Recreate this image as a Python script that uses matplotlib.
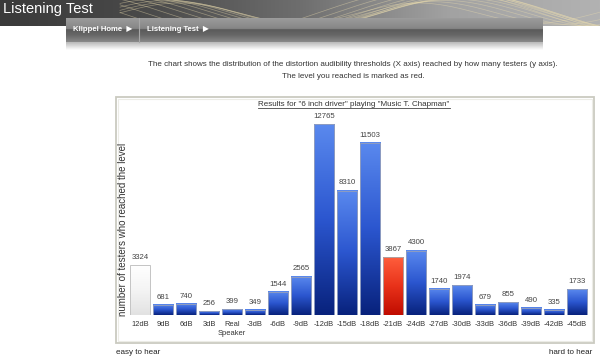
"""Listening test result page: distribution of distortion audibility thresholds."""

import matplotlib

matplotlib.use("Agg")
import matplotlib.pyplot as plt
import numpy as np
from matplotlib.colors import LinearSegmentedColormap
from matplotlib.patches import Rectangle

plt.rcParams["font.family"] = ["Liberation Sans", "DejaVu Sans"]

# data
levels = ["12dB", "9dB", "6dB", "3dB", "Real\nSpeaker", "-3dB", "-6dB", "-9dB", "-12dB",
          "-15dB", "-18dB", "-21dB", "-24dB", "-27dB", "-30dB", "-33dB", "-36dB",
          "-39dB", "-42dB", "-45dB"]
testers = [3324, 681, 740, 256, 399, 349, 1544, 2565, 12765, 8310, 11503, 3867, 4300,
           1740, 1974, 679, 855, 490, 335, 1733]
your_level = "-21dB"
not_reached_level = "12dB"

title = 'Results for "6 inch driver" playing "Music T. Chapman"'
intro = [
    "The chart shows the distribution of the distortion audibility thresholds (X axis) "
    "reached by how many testers (y axis).",
    "The level you reached is marked as red.",
]

CMAPS = {
    "blue": LinearSegmentedColormap.from_list("blue", ["#5a89ee", "#2b56cf", "#08227c"]),
    "red": LinearSegmentedColormap.from_list("red", ["#ff5e3c", "#e8321a", "#c00c00"]),
    "white": LinearSegmentedColormap.from_list("white", ["#ffffff", "#f4f4f4", "#e2e2e2"]),
}
EDGES = {"blue": "#8e9cc0", "red": "#b0a0a0", "white": "#c4c4c4"}

W, H = 600, 360
fig = plt.figure(figsize=(W / 100, H / 100), dpi=100)
fig.patch.set_facecolor("white")

# page background in pixel coordinates (y down)
bg = fig.add_axes([0, 0, 1, 1], zorder=0)
bg.set_xlim(0, W)
bg.set_ylim(H, 0)
bg.axis("off")

# header band
header_cmap = LinearSegmentedColormap.from_list(
    "header", ["#3a3a3a", "#4a4a4a", "#6e6e6e", "#a2a2a2", "#b2b2b2"])
bg.imshow(np.linspace(0, 1, 256).reshape(1, -1), cmap=header_cmap, aspect="auto",
          extent=(0, W, 26, 0), zorder=1)
clip = Rectangle((0, 0), W, 26, transform=bg.transData)
xs = np.linspace(120, W, 300)
for k in range(12):
    phase = k * 0.45
    amp = 10 + k * 1.3
    ys = 13 + amp * np.sin(xs / (38 + 3 * k) + phase)
    line, = bg.plot(xs, ys, color="#eadcae", lw=0.5, alpha=0.45, zorder=2)
    line.set_clip_path(clip)
bg.text(3, 9, "Listening Test", color="white", fontsize=10.5, va="center", ha="left",
        zorder=5)

# navigation bar with shadow
nav_cmap = LinearSegmentedColormap.from_list(
    "nav", [(0, "#9c9c9c"), (0.45, "#858585"), (0.47, "#5a5a5a"),
            (0.7, "#666666"), (1, "#8a8a8a")])
bg.imshow(np.linspace(0, 1, 128).reshape(-1, 1), cmap=nav_cmap, aspect="auto",
          extent=(66, 543, 42, 18), zorder=3)
shadow_cmap = LinearSegmentedColormap.from_list("shadow", ["#b8b8b8", "#ffffff"])
bg.imshow(np.linspace(0, 1, 64).reshape(-1, 1), cmap=shadow_cmap, aspect="auto",
          extent=(66, 543, 50, 42), zorder=3)
bg.plot([139, 139], [18, 42], color="#a8a8a8", lw=0.8, zorder=4)
bg.text(73, 29.5, "Klippel Home  \u25b6", color="white", fontsize=5.6, weight="bold",
        va="center", ha="left", zorder=5)
bg.text(147, 29.5, "Listening Test  \u25b6", color="white", fontsize=5.6, weight="bold",
        va="center", ha="left", zorder=5)

# intro text
bg.text(353, 65, intro[0], color="#333333", fontsize=5.8, ha="center", va="center")
bg.text(353, 77, intro[1], color="#333333", fontsize=5.8, ha="center", va="center")

# chart box
bg.add_patch(Rectangle((116, 97), 478, 246, fill=False, edgecolor="#cacac0", lw=1.3,
                       zorder=1))
bg.add_patch(Rectangle((118, 99), 474, 242, fill=False, edgecolor="#ecece6", lw=0.8,
                       zorder=1))
title_text = bg.text(354, 104.5, title, color="#333333", fontsize=5.8, ha="center",
                     va="center")

bg.text(116, 352, "easy to hear", color="#222222", fontsize=5.8, ha="left", va="center")
bg.text(592, 352, "hard to hear", color="#222222", fontsize=5.8, ha="right", va="center")
bg.text(123, 229, "number of testers who reached the level", color="#333333",
        fontsize=7, rotation=90, ha="center", va="center")

# bar chart
baseline_px, top_px = 315, 110
left_px, right_px = 128.5, 588.5
ax = fig.add_axes([left_px / W, (H - baseline_px) / H, (right_px - left_px) / W,
                   (baseline_px - top_px) / H], zorder=2)
ax.patch.set_alpha(0)
positions = np.arange(len(levels))
width = 0.87
for pos, level, value in zip(positions, levels, testers):
    if level == your_level:
        kind = "red"
    elif level == not_reached_level:
        kind = "white"
    else:
        kind = "blue"
    ax.imshow(np.linspace(0, 1, 128).reshape(-1, 1), cmap=CMAPS[kind], aspect="auto",
              extent=(pos - width / 2, pos + width / 2, 0, value), zorder=2)
    ax.bar(pos, value, width=width, facecolor="none", edgecolor=EDGES[kind], lw=0.7,
           zorder=3)
    ax.annotate(f"{value}", (pos, value), xytext=(0, 3), textcoords="offset points",
                ha="center", va="bottom", fontsize=5.6, color="#444444")

ax.set_xlim(-0.5, len(levels) - 0.5)
ax.set_ylim(0, 12765 * (baseline_px - top_px) / (baseline_px - 124))
ax.set_xticks(positions)
ax.set_xticklabels(levels, fontsize=5.4, color="#333333", linespacing=1.45)
ax.tick_params(axis="x", length=0, pad=4)
ax.set_yticks([])
for spine in ax.spines.values():
    spine.set_visible(False)

# underline for the chart title
fig.canvas.draw()
bb = title_text.get_window_extent(fig.canvas.get_renderer())
bg.plot([bb.x0, bb.x1], [H - bb.y0 + 0.3, H - bb.y0 + 0.3], color="#444444", lw=0.6)

fig.savefig("out.png", dpi=100)
